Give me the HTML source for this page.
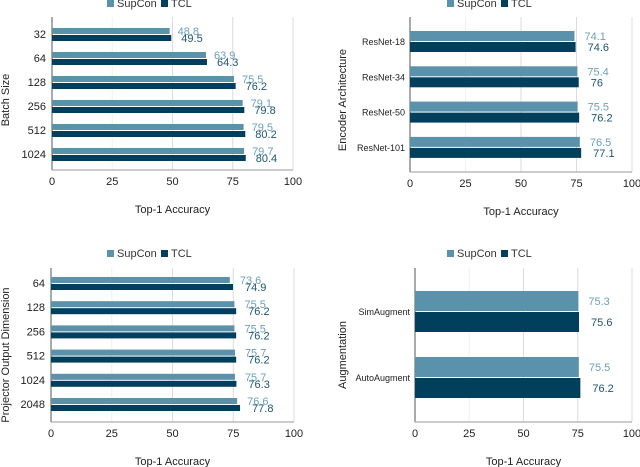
<!DOCTYPE html>
<html><head><meta charset="utf-8"><style>
html,body{margin:0;padding:0;background:#fff;}
svg{display:block;font-family:"Liberation Sans",sans-serif;}
</style></head><body>
<svg id="c" width="640" height="467" viewBox="0 0 640 467"></svg>
<script>
const batchCats=["32","64","128","256","512","1024"];
const batchSup=[48.8,63.9,75.5,79.1,79.5,79.7];
const batchTcl=[49.5,64.3,76.2,79.8,80.2,80.4];
const encCats=["ResNet-18","ResNet-34","ResNet-50","ResNet-101"];
const encSup=[74.1,75.4,75.5,76.5];
const encTcl=[74.6,76,76.2,77.1];
const projCats=["64","128","256","512","1024","2048"];
const projSup=[73.6,75.5,75.5,75.7,75.7,76.6];
const projTcl=[74.9,76.2,76.2,76.2,76.3,77.8];
const augCats=["SimAugment","AutoAugment"];
const augSup=[75.3,75.5];
const augTcl=[75.6,76.2];
const ticks=[0,25,50,75,100];

const NS="http://www.w3.org/2000/svg";
const svg=document.getElementById('c');
function mk(tag,attrs,parent,txt){const e=document.createElementNS(NS,tag);for(const k in attrs)e.setAttribute(k,attrs[k]);if(txt!==undefined)e.textContent=txt;parent.appendChild(e);return e;}

function panel(o){
  const g=mk('g',{},svg);
  
  
  const sx=v=>o.x0+(o.x1-o.x0)*v/100;
  ticks.forEach(t=>{
    if(t>0){const l=mk('line',{x1:sx(t),x2:sx(t),y1:o.top,y2:o.bot,stroke:t===25?'#f0f0f0':'#dcdcdc','stroke-width':1},g);
      
      }
    const tl=mk('text',{x:sx(t),y:o.bot+15,'font-size':11,'text-anchor':'middle',fill:'#222'},g,String(t));
    
    
  });
  const ax=mk('line',{x1:o.x0,x2:o.x0,y1:o.top,y2:o.bot,stroke:'#555','stroke-width':1},g);
  
  
  const bx=mk('line',{x1:o.x0,x2:o.x1,y1:o.bot,y2:o.bot,stroke:'#999','stroke-width':1},g);
  
  
  o.cats.forEach((c,i)=>{
    const y=o.first+i*o.step;
    const r1=mk('rect',{x:o.x0,y:y,width:sx(o.sup[i])-o.x0,height:o.bh,fill:'#5a91ab'},g);
    
    
    const r2=mk('rect',{x:o.x0,y:y+o.bh+1,width:sx(o.tcl[i])-o.x0,height:o.bh,fill:'#023f5c'},g);
    
    
    const v1=mk('text',{x:sx(o.sup[i])+o.lo,y:y+o.bh/2+4,'font-size':o.fs,fill:'#6d9fbb'},g,String(o.sup[i]));
    
    
    const v2=mk('text',{x:sx(o.tcl[i])+o.lo+2,y:y+o.bh*1.5+5,'font-size':o.fs,fill:'#1d5474'},g,String(o.tcl[i]));
    
    
    const cl=mk('text',{x:o.x0-o.cg,y:y+o.bh+4,'font-size':o.cfs,'text-anchor':'end',fill:'#222'},g,c);
    
    
  });
  const xt=mk('text',{x:(o.x0+o.x1)/2,y:o.bot+43,'font-size':11,'text-anchor':'middle',fill:'#222'},g,'Top-1 Accuracy');
  
  
  const yt=mk('text',{x:0,y:0,'font-size':11,'text-anchor':'middle',fill:'#222',transform:`translate(${o.ytx},${o.yty}) rotate(-90)`},g,o.ytitle);
  
  
  const lg=mk('g',{},g);
  
  
  const lx=o.lx, ly=o.ly;
  const s1=mk('rect',{x:lx,y:ly-4,width:7,height:7,fill:'#5a91ab'},lg);
  
  
  const t1=mk('text',{x:lx+10,y:ly+3,'font-size':11,fill:'#333'},lg,'SupCon');
  
  
  const s2=mk('rect',{x:lx+54,y:ly-4,width:7,height:7,fill:'#023f5c'},lg);
  
  
  const t2=mk('text',{x:lx+64,y:ly+3,'font-size':11,fill:'#333'},lg,'TCL');
  
  
}
panel({name:'batch-size-chart',cats:batchCats,sup:batchSup,tcl:batchTcl,x0:52,x1:293,top:17,bot:170,first:28,step:24,bh:6,fs:11,cfs:11,cg:6,lo:8,ytitle:'Batch Size',ytx:9,yty:100,lx:107,ly:4});
panel({name:'encoder-chart',cats:encCats,sup:encSup,tcl:encTcl,x0:410,x1:632,top:17,bot:172,first:31,step:35.3,bh:10,fs:11,cfs:9,cg:5,lo:10,ytitle:'Encoder Architecture',ytx:346,yty:100,lx:447,ly:4});
panel({name:'projector-dimension-chart',cats:projCats,sup:projSup,tcl:projTcl,x0:51,x1:294,top:268,bot:422,first:277,step:24.2,bh:6,fs:11,cfs:11,cg:6,lo:10,ytitle:'Projector Output Dimension',ytx:9,yty:355,lx:107,ly:254});
panel({name:'augmentation-chart',cats:augCats,sup:augSup,tcl:augTcl,x0:415,x1:632,top:268,bot:422,first:291,step:66,bh:20,fs:11,cfs:9,cg:5,lo:10,ytitle:'Augmentation',ytx:346,yty:355,lx:447,ly:254});
</script>
</body></html>
